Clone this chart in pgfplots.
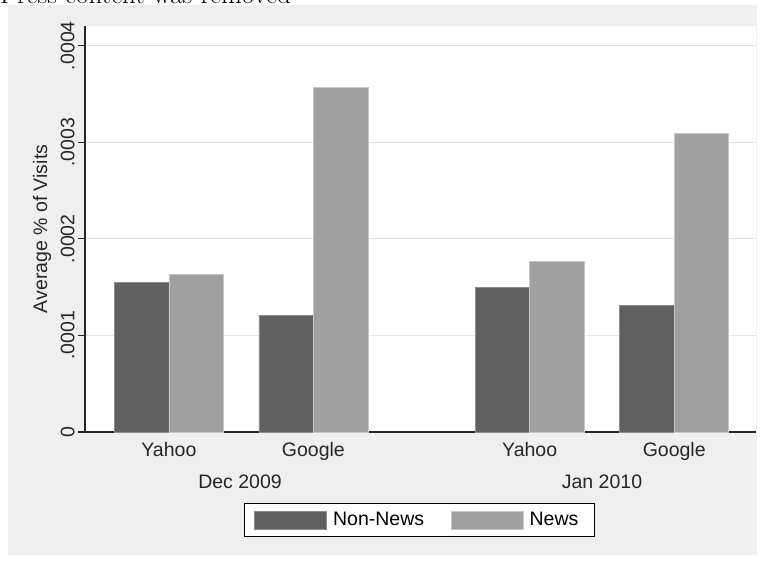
\documentclass[border=0pt]{standalone}
\usepackage{pgfplots}
\pgfplotsset{compat=1.18}
\usepackage{fontspec}
\newfontfamily\arial{Liberation Sans}
\definecolor{bg}{RGB}{239,239,239}
\definecolor{nn}{RGB}{96,96,96}
\definecolor{nw}{RGB}{160,160,160}
\definecolor{grd}{RGB}{228,228,228}
\newcommand{\cf}{\arial\fontsize{19.5}{23}\selectfont}
\begin{document}
\begin{tikzpicture}[x=1pt,y=1pt]
\fill[bg] (8,5) rectangle (757,555);
\fill[white] (85,128) rectangle (756,534);
\node[anchor=base west, inner sep=0pt, font=\fontsize{27}{33}\selectfont] at (0,556) {Press content was removed};
\begin{axis}[
  at={(85pt,128pt)}, anchor=south west,
  width=671pt, height=406pt, scale only axis,
  xmin=0, xmax=671, ymin=0, ymax=4.203,
  clip=false,
  axis lines*=left,
  axis line style={-, line width=1.2pt, black!85},
  ytick={0,1,2,3,4}, yticklabels={0,.0001,.0002,.0003,.0004},
  ymajorgrids, major grid style={grd, line width=1.2pt},
  tick align=outside, major tick length=7pt,
  ytick style={black!85, line width=1.2pt},
  xtick={83.9,228.4,444.7,589.2}, xticklabels={Yahoo,Google,Yahoo,Google},
  xtick style={draw=none},
  tick label style={font=\cf, text=black!85},
  label style={font=\cf, text=black!85},
  yticklabel style={rotate=90, anchor=south},
  ylabel={Average \% of Visits},
  ylabel style={at={(axis description cs:-0.0641,0.5)}, anchor=center, rotate=0},
  legend columns=2,
  legend image code/.code={\fill[#1] (0pt,-9pt) rectangle (72pt,9pt);},
  legend style={at={(0.4985,-0.2167)}, anchor=center, draw=black, line width=1pt, fill=white,
    font=\cf, inner xsep=9.5pt, inner ysep=7pt,
    nodes={inner xsep=6.5pt, inner ysep=0pt},
    /tikz/every even column/.append style={column sep=20pt}},
]
\addplot[ybar, bar width=54.5, bar shift=-27.25, fill=nn, draw=black!45, line width=0.5pt]
  coordinates {(83.9,1.546) (228.4,1.208) (444.7,1.494) (589.2,1.307)};
\addlegendentry{Non-News}
\addplot[ybar, bar width=54.5, bar shift=27.25, fill=nw, draw=black!22, line width=0.5pt]
  coordinates {(83.9,1.628) (228.4,3.568) (444.7,1.763) (589.2,3.092)};
\addlegendentry{News}
\node[font=\cf, text=black!85] at (axis cs:155,-0.5176) {Dec 2009};
\node[font=\cf, text=black!85] at (axis cs:517,-0.5176) {Jan 2010};
\end{axis}
\pgfresetboundingbox
\path[use as bounding box] (0,0) rectangle (765,560);
\end{tikzpicture}
\end{document}
